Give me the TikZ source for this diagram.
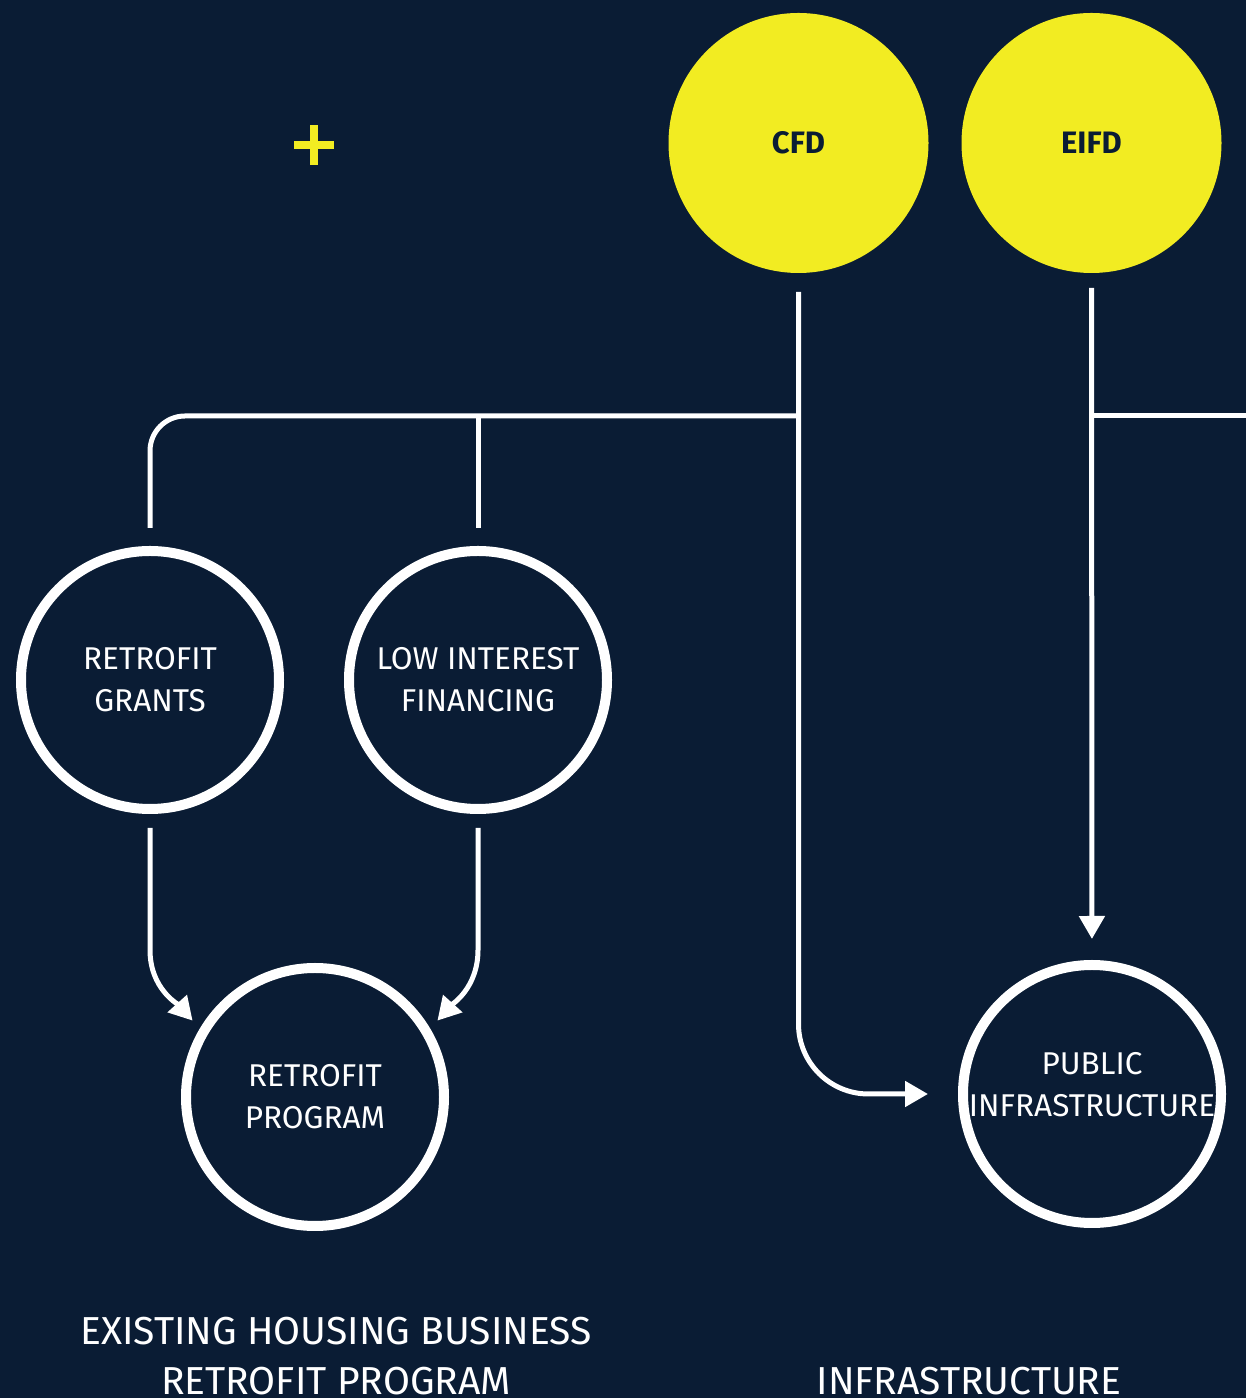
\documentclass[tikz,border=0pt]{standalone}
\usepackage{fontspec}
\setmainfont{Fira Sans}
\usetikzlibrary{positioning,arrows.meta}
\definecolor{navybg}{RGB}{10,28,52}
\definecolor{cfdyellow}{RGB}{242,236,34}

\begin{document}
\begin{tikzpicture}[
  x=1pt, y=1pt,
  token/.style={circle, fill=cfdyellow, minimum size=260pt, inner sep=0pt, outer sep=0pt, text=navybg, font=\fontsize{31}{40}\selectfont\bfseries},
  ring/.style={circle, draw=white, line width=10pt, minimum size=258pt, inner sep=-20pt, outer sep=0pt, text=white, align=center, font=\fontsize{31.5}{42}\selectfont},
  link/.style={draw=white, line width=5pt},
  arrow/.style={link, -{Triangle[length=23pt, width=25pt]}},
  caption/.style={text=white, align=center, font=\fontsize{39}{51}\selectfont}
]
\fill[navybg] (0,0) rectangle (1246,1398);
\useasboundingbox (0,0) rectangle (1246,1398);

% plus sign
\draw[cfdyellow, line width=8pt] (294,1253) -- (334,1253) (314,1233) -- (314,1273);

\node[token] (cfd) at (798.5,1255) {CFD};
\node[token, right=33pt of cfd] (eifd) {EIFD};

\node[ring] (grants) at (150,718) {RETROFIT\\GRANTS};
\node[ring] (lif) at (478,718) {LOW INTEREST\\FINANCING};
\node[ring] (program) at (315,301) {RETROFIT\\PROGRAM};
\node[ring, text depth=20pt] (pubinfra) at (1092,304) {PUBLIC\\INFRASTRUCTURE};

\coordinate (cfdjoint) at (cfd.south |- 0,982);
\coordinate (eifdjoint) at (eifd.south |- 0,982);
\coordinate (offpage) at (1246,982);

% CFD
\draw[arrow, rounded corners=70pt, shorten <=19pt, shorten >=35pt] (cfd.south) -- (cfd.south |- pubinfra.west) -- (pubinfra.west);
\draw[link, rounded corners=35pt, shorten >=23pt] (cfdjoint) -- (grants.north |- cfdjoint) -- (grants.north);
\draw[link, shorten >=23pt] (lif.north |- cfdjoint) -- (lif.north);

% EIFD
\draw[arrow, shorten <=15pt, shorten >=26pt] (eifd) -- (pubinfra);
\draw[link] (eifdjoint) -- (offpage);

% into the program
\draw[arrow, shorten <=19pt, shorten >=16pt] (grants.south) -- (grants.south |- 0,448) to[out=-90, in=132] (program.150);
\draw[arrow, shorten <=19pt, shorten >=16pt] (lif.south) -- (lif.south |- 0,448) to[out=-90, in=48] (program.30);

\node[caption, anchor=base] (housinglbl) at (336,3) {EXISTING HOUSING BUSINESS\\RETROFIT PROGRAM};
\node[caption, anchor=base] (infralbl) at (969,3) {INFRASTRUCTURE};
\end{tikzpicture}
\end{document}
